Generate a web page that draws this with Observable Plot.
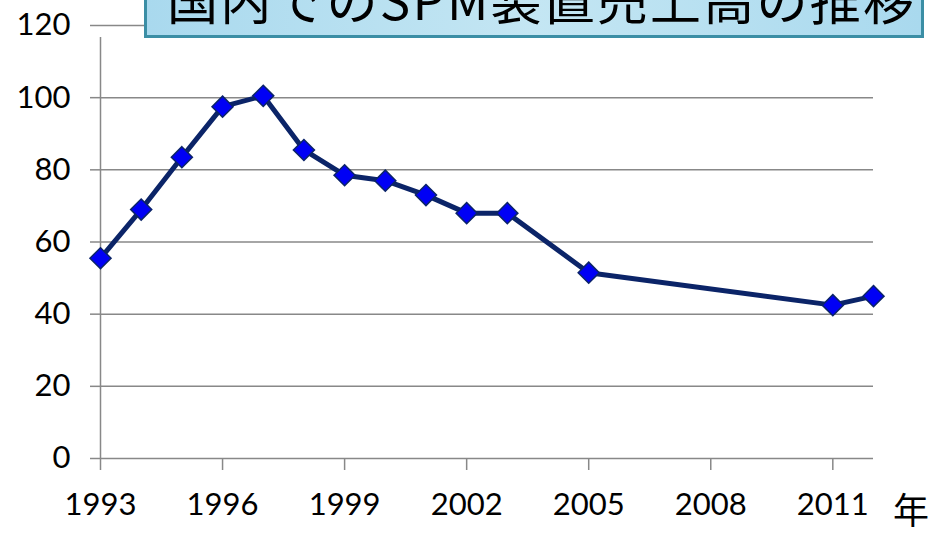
<!DOCTYPE html>
<html>
<head>
<meta charset="utf-8">
<script src="https://cdn.jsdelivr.net/npm/d3@7"></script>
<script src="https://cdn.jsdelivr.net/npm/@observablehq/plot@0.6"></script>
<style>
  html, body { margin: 0; padding: 0; background: #fff; overflow: hidden; }
  #wrap { position: relative; width: 933px; height: 536px; }
  #title {
    position: absolute; left: 144px; top: -30px; width: 780px; height: 68px;
    background: linear-gradient(90deg, #a9d9ee 0%, #c4e6f3 50%, #a9d9ee 100%);
    border: 3px solid #3b8ea5; box-sizing: border-box;
    font-family: "Noto Sans CJK JP", sans-serif; font-size: 51px; line-height: 1;
    color: #000; white-space: nowrap; overflow: hidden;
  }
  #title span { position: absolute; left: 20px; top: 0px; letter-spacing: 2.2px; }
  #unit {
    position: absolute; left: 893px; top: 490px;
    font-family: "Noto Sans CJK JP", sans-serif; font-size: 36px; line-height: 1; color: #000;
  }
</style>
</head>
<body>
<div id="wrap">
  <div id="chart"></div>
  <div id="title"><span>国内でのSPM装置売上高の推移</span></div>
  <div id="unit">年</div>
</div>
<script>
const years = [1993, 1994, 1995, 1996, 1997, 1998, 1999, 2000, 2001, 2002, 2003, 2005, 2011, 2012];
const sales = [55.5, 69, 83.5, 97.5, 100.5, 85.5, 78.5, 77, 73, 68, 68, 51.5, 42.5, 45];
const xTicks = [1993, 1996, 1999, 2002, 2005, 2008, 2011];
const yTicks = [0, 20, 40, 60, 80, 100, 120];

const data = years.map((y, i) => ({year: y, value: sales[i]}));

const chart = Plot.plot({
  width: 933,
  height: 536,
  marginLeft: 100,
  marginRight: 60,
  marginTop: 25,
  marginBottom: 78,
  style: {fontFamily: "Lato, 'Open Sans', sans-serif", fontSize: "31px", color: "#000", background: "#fff"},
  x: {domain: [1993, 2012]},
  y: {domain: [0, 120]},
  marks: [
    Plot.ruleY(yTicks.filter(d => d > 0), {stroke: "#888", strokeWidth: 1.5, strokeOpacity: 1}),
    Plot.ruleX([1993], {stroke: "#888", strokeWidth: 1.5, y1: 0, y2: 120, insetBottom: -12}),
    Plot.ruleY([0], {stroke: "#888", strokeWidth: 1.5}),
    Plot.axisY({ticks: yTicks, tickSize: 10, tickPadding: 20, stroke: "#888", strokeWidth: 1.5, strokeOpacity: 1, label: null, tickFormat: d => String(d), fill: "#000"}),
    Plot.axisX({ticks: xTicks, tickSize: 12, tickPadding: 22, stroke: "#888", strokeWidth: 1.5, strokeOpacity: 1, label: null, tickFormat: d => String(d), fill: "#000"}),
    Plot.line(data, {x: "year", y: "value", stroke: "#0b2468", strokeWidth: 5}),
    Plot.dot(data, {x: "year", y: "value", symbol: "diamond2", r: 9.5, fill: "#0000f5", stroke: "#0b2468", strokeWidth: 1.5})
  ]
});
document.getElementById("chart").appendChild(chart);
</script>
</body>
</html>
